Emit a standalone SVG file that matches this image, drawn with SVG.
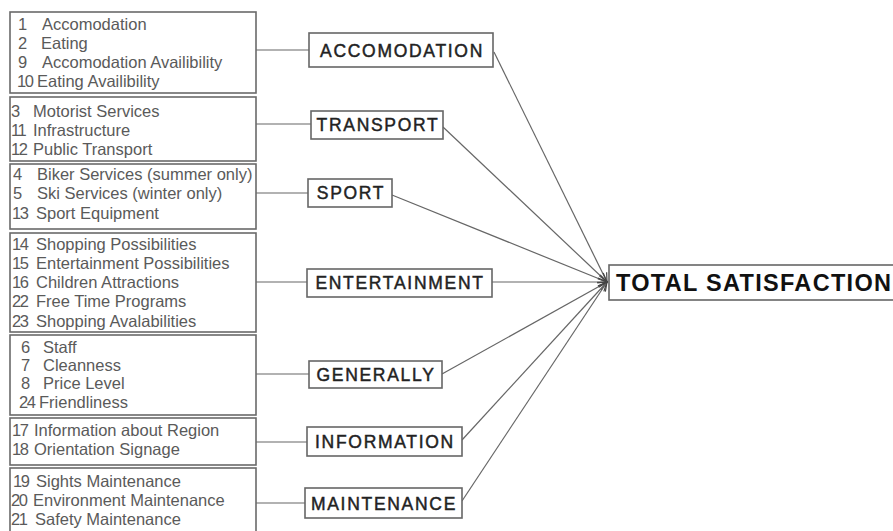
<svg xmlns="http://www.w3.org/2000/svg" width="893" height="531" viewBox="0 0 893 531">
<defs>
<style>
.lb{fill:#fff;stroke:#6a6a6a;stroke-width:1.6}
.cb{fill:#fff;stroke:#666;stroke-width:1.6}
.lt{font-family:"Liberation Sans",Arial,sans-serif;font-size:16.5px;fill:#5a5a5a}
.n{letter-spacing:-1.5px}
.ct{font-family:"Liberation Sans",Arial,sans-serif;font-size:17.5px;fill:#222;stroke:#222;stroke-width:0.45;letter-spacing:1.7px;text-anchor:middle}
.tt{font-family:"Liberation Sans",Arial,sans-serif;font-size:23.5px;font-weight:bold;fill:#111;letter-spacing:1.3px}
.ln{stroke:#666;stroke-width:1.2;fill:none}
</style>
<marker id="arr" markerUnits="userSpaceOnUse" markerWidth="12" markerHeight="12" refX="10" refY="5" orient="auto">
<path d="M1,1 L10,5 L1,9" fill="none" stroke="#444" stroke-width="1.2"/>
</marker>
</defs>
<rect width="893" height="531" fill="#fff"/>

<g id="connectors">
<line class="ln" x1="256" y1="50" x2="309" y2="50"/>
<line class="ln" x1="256" y1="124" x2="311" y2="124"/>
<line class="ln" x1="256" y1="193" x2="308" y2="193"/>
<line class="ln" x1="256" y1="282" x2="307" y2="282"/>
<line class="ln" x1="256" y1="374" x2="309" y2="374"/>
<line class="ln" x1="256" y1="442" x2="307" y2="442"/>
<line class="ln" x1="256" y1="503" x2="305" y2="503"/>
<line class="ln" x1="494" y1="52" x2="607" y2="282" marker-end="url(#arr)"/>
<line class="ln" x1="443" y1="127" x2="607" y2="282" marker-end="url(#arr)"/>
<line class="ln" x1="392" y1="195" x2="607" y2="282" marker-end="url(#arr)"/>
<line class="ln" x1="492" y1="282" x2="607" y2="282" marker-end="url(#arr)"/>
<line class="ln" x1="442" y1="374" x2="607" y2="282" marker-end="url(#arr)"/>
<line class="ln" x1="462" y1="440" x2="607" y2="282" marker-end="url(#arr)"/>
<line class="ln" x1="462" y1="501" x2="607" y2="282" marker-end="url(#arr)"/>
</g>

<g id="list-accomodation">
<rect class="lb" x="10" y="12" width="246" height="81"/>
<text class="lt"><tspan class="n" x="18" y="30">1</tspan><tspan x="42" y="30">Accomodation</tspan></text>
<text class="lt"><tspan class="n" x="18" y="49">2</tspan><tspan x="41" y="49">Eating</tspan></text>
<text class="lt"><tspan class="n" x="18" y="68">9</tspan><tspan x="42" y="68">Accomodation Availibility</tspan></text>
<text class="lt"><tspan class="n" x="17" y="87">10</tspan><tspan x="37" y="87">Eating Availibility</tspan></text>
</g>

<g id="list-transport">
<rect class="lb" x="10" y="97" width="246" height="64"/>
<text class="lt"><tspan class="n" x="11" y="117">3</tspan><tspan x="33" y="117">Motorist Services</tspan></text>
<text class="lt"><tspan class="n" x="11" y="136">11</tspan><tspan x="33" y="136">Infrastructure</tspan></text>
<text class="lt"><tspan class="n" x="11" y="155">12</tspan><tspan x="33" y="155">Public Transport</tspan></text>
</g>

<g id="list-sport">
<rect class="lb" x="10" y="164" width="246" height="65"/>
<text class="lt"><tspan class="n" x="13" y="180">4</tspan><tspan x="37" y="180">Biker Services (summer only)</tspan></text>
<text class="lt"><tspan class="n" x="13" y="199">5</tspan><tspan x="37" y="199">Ski Services (winter only)</tspan></text>
<text class="lt"><tspan class="n" x="12" y="219">13</tspan><tspan x="36" y="219">Sport Equipment</tspan></text>
</g>

<g id="list-entertainment">
<rect class="lb" x="10" y="233" width="246" height="99"/>
<text class="lt"><tspan class="n" x="12" y="250">14</tspan><tspan x="36" y="250">Shopping Possibilities</tspan></text>
<text class="lt"><tspan class="n" x="12" y="269">15</tspan><tspan x="36" y="269">Entertainment Possibilities</tspan></text>
<text class="lt"><tspan class="n" x="12" y="288">16</tspan><tspan x="36" y="288">Children Attractions</tspan></text>
<text class="lt"><tspan class="n" x="12" y="307">22</tspan><tspan x="36" y="307">Free Time Programs</tspan></text>
<text class="lt"><tspan class="n" x="12" y="327">23</tspan><tspan x="36" y="327">Shopping Avalabilities</tspan></text>
</g>

<g id="list-generally">
<rect class="lb" x="10" y="335" width="246" height="80"/>
<text class="lt"><tspan class="n" x="21" y="353">6</tspan><tspan x="43" y="353">Staff</tspan></text>
<text class="lt"><tspan class="n" x="21" y="371">7</tspan><tspan x="43" y="371">Cleanness</tspan></text>
<text class="lt"><tspan class="n" x="21" y="389">8</tspan><tspan x="43" y="389">Price Level</tspan></text>
<text class="lt"><tspan class="n" x="19" y="408">24</tspan><tspan x="39" y="408">Friendliness</tspan></text>
</g>

<g id="list-information">
<rect class="lb" x="10" y="418" width="246" height="47"/>
<text class="lt"><tspan class="n" x="12" y="436">17</tspan><tspan x="34" y="436">Information about Region</tspan></text>
<text class="lt"><tspan class="n" x="12" y="455">18</tspan><tspan x="34" y="455">Orientation Signage</tspan></text>
</g>

<g id="list-maintenance">
<rect class="lb" x="10" y="468" width="246" height="70"/>
<text class="lt"><tspan class="n" x="13" y="487">19</tspan><tspan x="36" y="487">Sights Maintenance</tspan></text>
<text class="lt"><tspan class="n" x="11" y="506">20</tspan><tspan x="33" y="506">Environment Maintenance</tspan></text>
<text class="lt"><tspan class="n" x="11" y="525">21</tspan><tspan x="35" y="525">Safety Maintenance</tspan></text>
</g>

<g id="cat-accomodation">
<rect class="cb" x="309" y="33" width="184" height="34"/>
<text class="ct" x="402" y="57">ACCOMODATION</text>
</g>
<g id="cat-transport">
<rect class="cb" x="311" y="111" width="132" height="28"/>
<text class="ct" x="378" y="131">TRANSPORT</text>
</g>
<g id="cat-sport">
<rect class="cb" x="308" y="179" width="84" height="28"/>
<text class="ct" x="351" y="199">SPORT</text>
</g>
<g id="cat-entertainment">
<rect class="cb" x="307" y="269" width="185" height="28"/>
<text class="ct" x="400" y="289">ENTERTAINMENT</text>
</g>
<g id="cat-generally">
<rect class="cb" x="309" y="361" width="133" height="27"/>
<text class="ct" x="376" y="381">GENERALLY</text>
</g>
<g id="cat-information">
<rect class="cb" x="307" y="427" width="155" height="29"/>
<text class="ct" x="385" y="448">INFORMATION</text>
</g>
<g id="cat-maintenance">
<rect class="cb" x="305" y="488" width="157" height="30"/>
<text class="ct" x="384" y="510">MAINTENANCE</text>
</g>

<g id="total-satisfaction">
<rect class="cb" x="609" y="265" width="290" height="35"/>
<text class="tt" x="616" y="291">TOTAL SATISFACTION</text>
</g>
</svg>
